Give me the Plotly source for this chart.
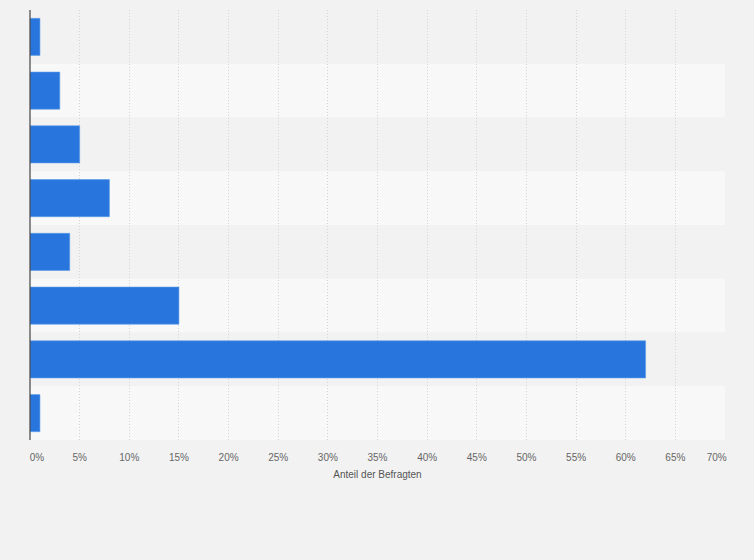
import plotly.graph_objects as go

categories = ["A", "B", "C", "D", "E", "F", "G", "H"]
values = [1, 3, 5, 8, 4, 15, 62, 1]
tick_vals = [0, 5, 10, 15, 20, 25, 30, 35, 40, 45, 50, 55, 60, 65, 70]
tick_text = ["\u00a0\u00a0\u00a0\u00a0\u00a00%", "5%", "10%", "15%", "20%", "25%", "30%", "35%",
             "40%", "45%", "50%", "55%", "60%", "65%", "70%\u00a0\u00a0\u00a0\u00a0\u00a0\u00a0"]
axis_title = "Anteil der Befragten"

fig = go.Figure()
fig.add_trace(go.Bar(
    x=values, y=categories, orientation="h",
    marker=dict(color="#2876dd", line=dict(color="#5b9aea", width=0.6)),
    width=0.69, hoverinfo="x",
))

shapes = []
for i, c in enumerate(categories):
    shapes.append(dict(
        type="rect", xref="paper", yref="y", layer="below",
        x0=0, x1=1, y0=i - 0.5, y1=i + 0.5,
        fillcolor="#f2f2f2" if i % 2 == 0 else "#f8f8f8", line=dict(width=0),
    ))
shapes.append(dict(type="line", xref="paper", yref="paper", x0=0, x1=0, y0=0, y1=1,
                   line=dict(color="#444444", width=1.2), layer="above"))

fig.update_layout(
    width=754, height=560,
    paper_bgcolor="#f2f2f2", plot_bgcolor="#f2f2f2",
    margin=dict(l=30, r=29, t=10, b=120),
    showlegend=False,
    shapes=shapes,
    font=dict(family="Liberation Sans, Arial, sans-serif", color="#666666", size=10),
    xaxis=dict(
        range=[0, 70], tickvals=tick_vals, ticktext=tick_text,
        showgrid=True, gridcolor="#d4d4d4", griddash="1px,2px", gridwidth=1,
        zeroline=False, showline=False, ticks="outside", ticklen=8, tickcolor="rgba(0,0,0,0)",
        tickfont=dict(size=10, color="#666666"),
        title=dict(text=axis_title, font=dict(size=10, color="#555555"), standoff=8),
    ),
    yaxis=dict(
        type="category", categoryorder="array", categoryarray=categories,
        showticklabels=False, showgrid=False, zeroline=False, ticks="",
        range=[7.5, -0.5],
    ),
)

fig.write_html("out.html", config={"displayModeBar": False},
               post_script="document.body.style.margin='0';document.body.style.padding='0';")
